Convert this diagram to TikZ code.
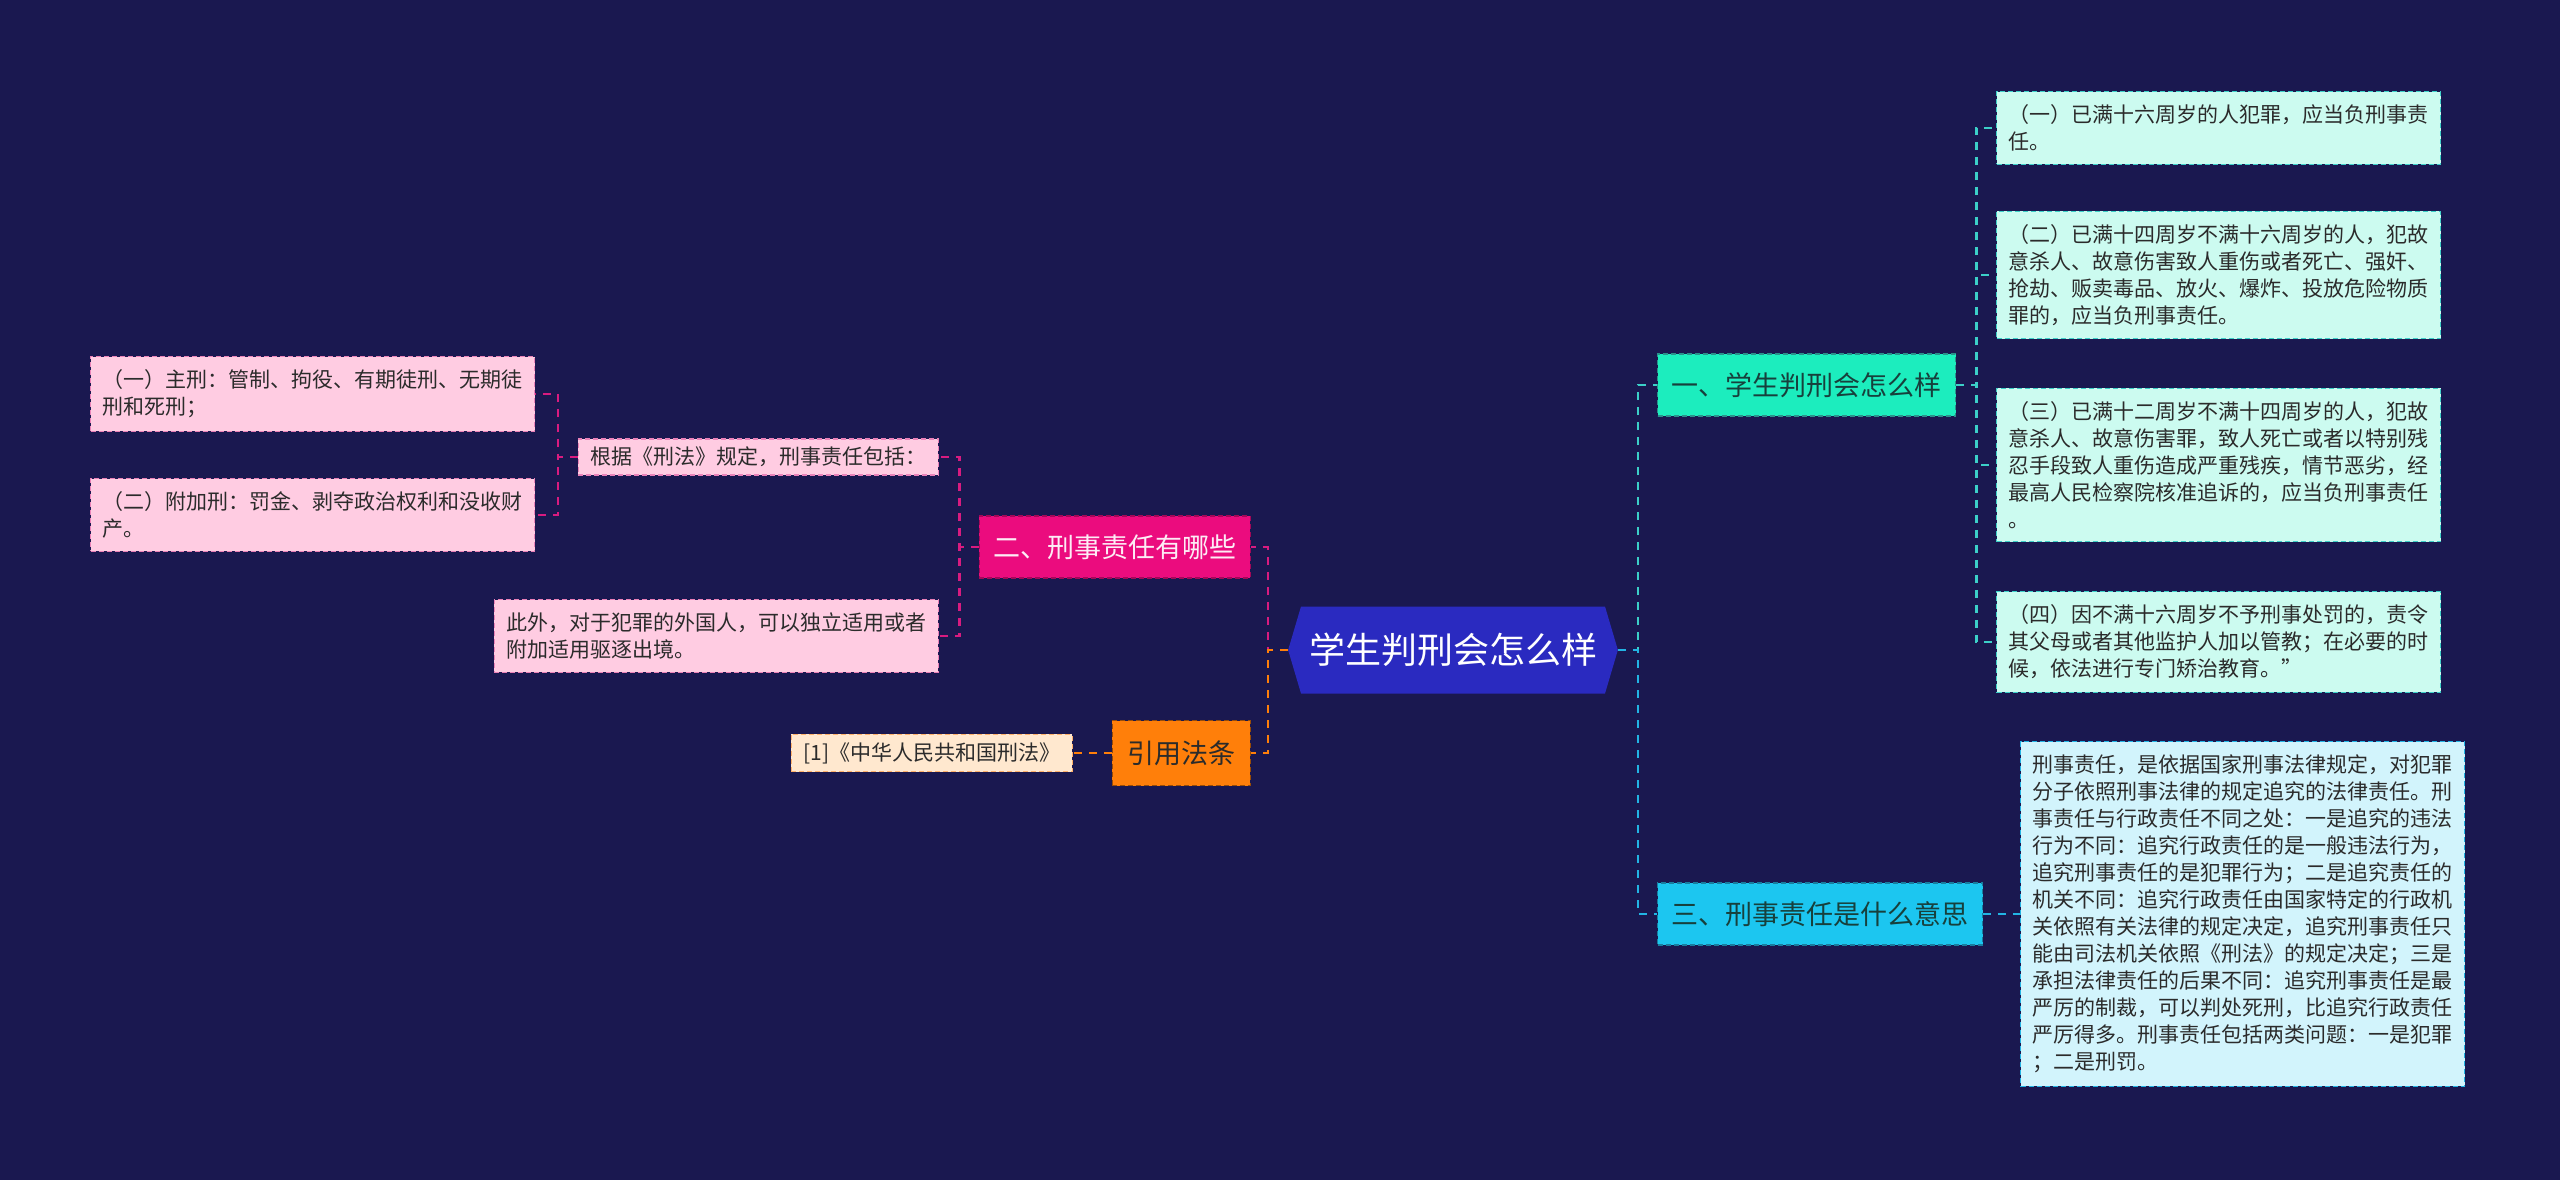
\documentclass[tikz,border=0pt]{standalone}
\usepackage{fontspec}
\setmainfont{Noto Sans CJK SC}
\usepackage{tikz}
\usetikzlibrary{
  positioning,
  shapes.symbols
}
\definecolor{night}{HTML}{1A1850}
\definecolor{rootblue}{HTML}{2A2AC0}
\definecolor{rose}{HTML}{EB0C7E}
\definecolor{roselight}{HTML}{FFCCE2}
\definecolor{roseline}{HTML}{D81B80}
\definecolor{amber}{HTML}{FF7F0A}
\definecolor{amberlight}{HTML}{FFE8CF}
\definecolor{mint}{HTML}{1CEDBE}
\definecolor{mintlight}{HTML}{CCFBF0}
\definecolor{mintline}{HTML}{3CCFC8}
\definecolor{sky}{HTML}{1CC6F0}
\definecolor{skylight}{HTML}{D2F4FC}
\definecolor{skyline}{HTML}{22B4E4}
\definecolor{ink}{HTML}{2B2B2B}
\definecolor{deepteal}{HTML}{17403C}
\tikzset{
  topic/.style={
    signal,
    signal to=west and east,
    signal pointer angle=147,
    fill=rootblue,
    text=white,
    minimum width=326pt,
    minimum height=87pt,
    inner xsep=8pt,
    font=\fontsize{36}{40}\selectfont
  },
  branch/.style={
    draw,
    dash pattern=on 5pt off 3pt,
    line width=1.3pt,
    minimum height=62pt,
    inner xsep=14pt,
    font=\fontsize{27}{32}\selectfont
  },
  leaf/.style={
    draw,
    dash pattern=on 5pt off 3pt,
    line width=1.1pt,
    align=left,
    inner xsep=12pt,
    inner ysep=13pt,
    text=ink,
    font=\fontsize{21}{27}\selectfont
  },
  pinkleaf/.style={leaf, fill=roselight, draw=roseline!55!white},
  mintleaf/.style={leaf, fill=mintlight, draw=mintline},
  skyleaf/.style={leaf, fill=skylight, draw=skyline},
  link/.style={
    line width=2.5pt,
    dash pattern=on 8pt off 7pt
  }
}

\begin{document}
\begin{tikzpicture}[x=1pt, y=-1pt]
  \fill[night] (0,0) rectangle (2560,1180);
  \useasboundingbox (0,0) rectangle (2560,1180);

  \node[topic] (root) at (1453,650) {学生判刑会怎么样};

  % left side
  \node[branch, fill=rose, draw=rose!70!black, text=white!92!rose, anchor=east] (b2) at (1251,547) {二、刑事责任有哪些};
  \node[branch, fill=amber, draw=amber!60!black, text=ink, anchor=east, inner xsep=15pt, minimum height=65pt] (cite) at (1251,753) {引用法条};
  \node[leaf, fill=amberlight, draw=amber!60!white, inner ysep=8pt, left=39pt of cite] (law) {[1]《中华人民共和国刑法》};
  \node[pinkleaf, inner ysep=8pt, anchor=east] (basis) at (939,457) {根据《刑法》规定，刑事责任包括：};
  \node[pinkleaf, anchor=east] (alien) at (939,636) {此外，对于犯罪的外国人，可以独立适用或者\\附加适用驱逐出境。};
  \node[pinkleaf, anchor=west] (main) at (90,394) {（一）主刑：管制、拘役、有期徒刑、无期徒\\刑和死刑；};
  \node[pinkleaf, anchor=west] (extra) at (90,515) {（二）附加刑：罚金、剥夺政治权利和没收财\\产。};

  % right side
  \node[branch, fill=mint, draw=mintline!70!black, text=deepteal, anchor=west] (b1) at (1657,385) {一、学生判刑会怎么样};
  \node[branch, fill=sky, draw=skyline!70!black, text=deepteal, anchor=west] (b3) at (1657,914) {三、刑事责任是什么意思};
  \node[mintleaf, anchor=west] (age1) at (1996,128) {（一）已满十六周岁的人犯罪，应当负刑事责\\任。};
  \node[mintleaf, anchor=west] (age2) at (1996,275) {（二）已满十四周岁不满十六周岁的人，犯故\\意杀人、故意伤害致人重伤或者死亡、强奸、\\抢劫、贩卖毒品、放火、爆炸、投放危险物质\\罪的，应当负刑事责任。};
  \node[mintleaf, anchor=west] (age3) at (1996,465) {（三）已满十二周岁不满十四周岁的人，犯故\\意杀人、故意伤害罪，致人死亡或者以特别残\\忍手段致人重伤造成严重残疾，情节恶劣，经\\最高人民检察院核准追诉的，应当负刑事责任\\。};
  \node[mintleaf, anchor=west] (age4) at (1996,642) {（四）因不满十六周岁不予刑事处罚的，责令\\其父母或者其他监护人加以管教；在必要的时\\候，依法进行专门矫治教育。”};
  \node[skyleaf, right=37pt of b3] (meaning) {刑事责任，是依据国家刑事法律规定，对犯罪\\分子依照刑事法律的规定追究的法律责任。刑\\事责任与行政责任不同之处：一是追究的违法\\行为不同：追究行政责任的是一般违法行为，\\追究刑事责任的是犯罪行为；二是追究责任的\\机关不同：追究行政责任由国家特定的行政机\\关依照有关法律的规定决定，追究刑事责任只\\能由司法机关依照《刑法》的规定决定；三是\\承担法律责任的后果不同：追究刑事责任是最\\严厉的制裁，可以判处死刑，比追究行政责任\\严厉得多。刑事责任包括两类问题：一是犯罪\\；二是刑罚。};

  % connectors
  \draw[link, draw=roseline] (root.west) -- ++(-20,0) |- (b2.east);
  \draw[link, draw=amber] (root.west) -- ++(-20,0) |- (cite.east);
  \draw[link, draw=roseline] (b2.west) -- ++(-19,0) |- (basis.east);
  \draw[link, draw=roseline] (b2.west) -- ++(-19,0) |- (alien.east);
  \draw[link, draw=roseline] (basis.west) -- ++(-20,0) |- (main.east);
  \draw[link, draw=roseline] (basis.west) -- ++(-20,0) |- (extra.east);
  \draw[link, draw=amber] (cite.west) -- (law.east);
  \draw[link, draw=mintline] (root.east) -- ++(20,0) |- (b1.west);
  \draw[link, draw=skyline] (root.east) -- ++(20,0) |- (b3.west);
  \foreach \n in {age1,age2,age3,age4}
    \draw[link, draw=mintline] (b1.east) -- ++(20,0) |- (\n.west);
  \draw[link, draw=skyline] (b3.east) -- (meaning.west);
\end{tikzpicture}
\end{document}
